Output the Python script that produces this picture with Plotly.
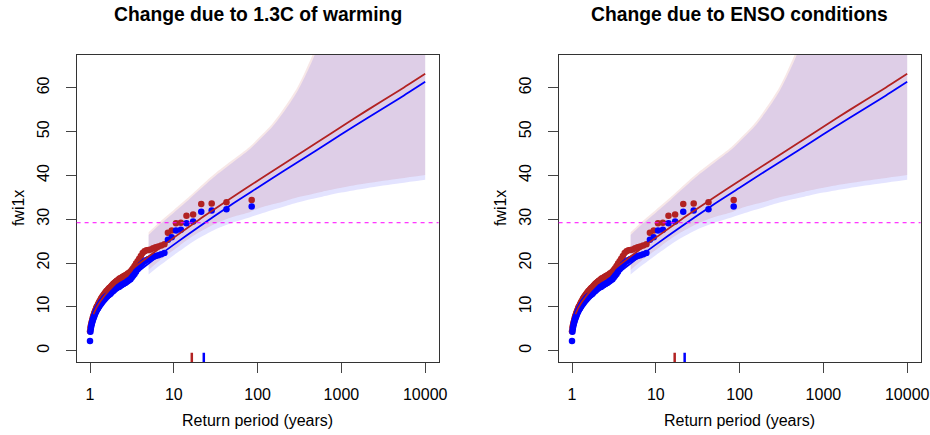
import plotly.graph_objects as go

# ---------------- data ----------------
# empirical return periods of the ranked observations (years)
obs_rp = [85, 42.5, 28.333, 21.25, 17, 14.167, 12.143, 10.625, 9.444, 8.5,
          7.727, 7.083, 6.538, 6.071, 5.667, 5.313, 5, 4.722, 4.474, 4.25,
          4.048, 3.864, 3.696, 3.542, 3.4, 3.269, 3.148, 3.036, 2.931, 2.833,
          2.742, 2.656, 2.576, 2.5, 2.429, 2.361, 2.297, 2.237, 2.179, 2.125,
          2.073, 2.024, 1.977, 1.932, 1.889, 1.848, 1.809, 1.771, 1.735, 1.7,
          1.667, 1.635, 1.604, 1.574, 1.545, 1.518, 1.491, 1.466, 1.441, 1.417,
          1.393, 1.371, 1.349, 1.328, 1.308, 1.288, 1.269, 1.25, 1.232, 1.214,
          1.197, 1.181, 1.164, 1.149, 1.133, 1.118, 1.104, 1.09, 1.076, 1.063,
          1.049, 1.037, 1.024, 1.012, 1.0]

obs_red = [34.4, 33.9, 33.6, 33.5, 31.1, 30.8, 29.2, 29.1, 27.4, 26.9,
           24.3, 24.0, 23.8, 23.6, 23.4, 23.1, 23.0, 22.9, 22.7, 22.3,
           21.6, 21.0, 20.4, 19.9, 19.3, 18.8, 18.4, 18.0, 17.8, 17.6,
           17.4, 17.2, 17.1, 16.9, 16.8, 16.6, 16.5, 16.4, 16.2, 16.0,
           15.9, 15.7, 15.5, 15.4, 15.2, 15.0, 14.8, 14.6, 14.4, 14.3,
           14.1, 13.9, 13.7, 13.6, 13.4, 13.2, 13.0, 12.8, 12.6, 12.4,
           12.2, 12.0, 11.8, 11.5, 11.3, 11.1, 10.8, 10.6, 10.3, 10.1,
           9.9, 9.6, 9.3, 9.0, 8.7, 8.4, 8.1, 7.8, 7.4, 7.0,
           6.6, 6.2, 5.7, 5.2, 4.4]

obs_blue = [32.9, 32.3, 32.0, 31.7, 29.5, 29.1, 27.6, 27.4, 25.9, 25.3,
            22.3, 22.0, 21.8, 21.6, 21.4, 21.1, 20.9, 20.7, 20.4, 20.0,
            19.6, 19.1, 18.6, 18.0, 17.5, 17.1, 16.7, 16.3, 16.1, 15.9,
            15.7, 15.5, 15.4, 15.2, 15.1, 14.9, 14.8, 14.6, 14.5, 14.4,
            14.3, 14.1, 14.0, 13.8, 13.6, 13.5, 13.3, 13.1, 12.95, 12.8,
            12.7, 12.6, 12.5, 12.4, 12.3, 12.1, 12.0, 11.8, 11.6, 11.4,
            11.3, 11.1, 10.9, 10.7, 10.5, 10.3, 10.0, 9.8, 9.6, 9.4,
            9.2, 8.9, 8.7, 8.4, 8.1, 7.8, 7.5, 7.2, 6.9, 6.5,
            6.1, 5.6, 5.0, 4.3, 2.2]

# fitted return-level curves
fit_rp = [1.1, 1.2, 1.5, 2, 3, 5, 10, 20, 50, 100, 200, 500, 1000, 2000, 5000, 10000]
fit_red = [8.3, 9.9, 12.6, 15.2, 18.2, 21.5, 25.8, 29.9, 35.0, 38.8, 42.5, 47.4, 51.1, 54.8, 59.5, 63.2]
fit_blue = [6.7, 8.2, 10.9, 13.5, 16.5, 19.9, 24.2, 28.3, 33.5, 37.2, 40.9, 45.7, 49.4, 53.0, 57.7, 61.4]

# confidence bands
ci_rp = [5, 7, 10, 15, 20, 30, 50, 80, 100, 150, 200, 300, 440, 700, 1000, 2000, 5000, 10000]
ci_red_hi = [27.0, 29.6, 32.1, 35.0, 37.2, 40.2, 43.5, 46.5, 48.3, 51.8, 55.0, 60.2, 67.0, 77, 85, 103, 135, 165]
ci_red_lo = [18.4, 20.8, 23.0, 25.5, 27.0, 28.8, 30.5, 31.6, 32.4, 33.4, 34.0, 35.0, 35.7, 36.6, 37.2, 38.2, 39.3, 40.1]
ci_blue_hi = [26.4, 29.0, 31.5, 34.4, 36.6, 39.6, 42.9, 45.9, 47.7, 51.1, 54.2, 59.3, 65.8, 75.5, 83.5, 101, 133, 162]
ci_blue_lo = [17.4, 19.6, 21.8, 24.2, 25.7, 27.5, 29.2, 30.4, 31.0, 32.1, 32.8, 33.8, 34.6, 35.5, 36.1, 37.1, 38.2, 39.0]

event_value = 29.2
rug_left = [16.4, 22.8]     # red, blue
rug_right = [16.8, 22.1]

titles = ["Change due to 1.3C of warming", "Change due to ENSO conditions"]
x_tickvals = [1, 10, 100, 1000, 10000]
x_ticktext = ["1", "10", "100", "1000", "10000"]
y_tickvals = [0, 10, 20, 30, 40, 50, 60]
xlabel = "Return period (years)"
ylabel = "fwi1x"

# ---------------- styling ----------------
RED = "#B22222"
BLUE = "#0000FF"
RED_BAND = "rgba(178,34,34,0.11)"
BLUE_BAND = "rgba(0,0,255,0.11)"
FONT = "Liberation Sans, Arial, sans-serif"
W, H = 930, 435
YR = [-2.6, 67.5]
XR = [-0.16, 4.16]

panels = [
    dict(xa="x", ya="y", xdom=[76.6 / W, 438.6 / W], rug=rug_left, title=titles[0]),
    dict(xa="x2", ya="y2", xdom=[558.6 / W, 920.6 / W], rug=rug_right, title=titles[1]),
]
ydom = [1 - 362 / H, 1 - 55 / H]

fig = go.Figure()
for p in panels:
    xa, ya = p["xa"], p["ya"]
    # bands
    band_line = dict(width=0, shape="spline", smoothing=0.8)
    fig.add_trace(go.Scatter(x=ci_rp, y=ci_blue_lo, mode="lines", line=band_line,
                             xaxis=xa, yaxis=ya, hoverinfo="skip", showlegend=False))
    fig.add_trace(go.Scatter(x=ci_rp, y=ci_blue_hi, mode="lines", line=band_line,
                             fill="tonexty", fillcolor=BLUE_BAND,
                             xaxis=xa, yaxis=ya, hoverinfo="skip", showlegend=False))
    fig.add_trace(go.Scatter(x=ci_rp, y=ci_red_lo, mode="lines", line=band_line,
                             xaxis=xa, yaxis=ya, hoverinfo="skip", showlegend=False))
    fig.add_trace(go.Scatter(x=ci_rp, y=ci_red_hi, mode="lines", line=band_line,
                             fill="tonexty", fillcolor=RED_BAND,
                             xaxis=xa, yaxis=ya, hoverinfo="skip", showlegend=False))
    # observations
    fig.add_trace(go.Scatter(x=obs_rp, y=obs_red, mode="markers",
                             marker=dict(color=RED, size=6.5, line=dict(width=0)),
                             xaxis=xa, yaxis=ya, showlegend=False))
    fig.add_trace(go.Scatter(x=obs_rp, y=obs_blue, mode="markers",
                             marker=dict(color=BLUE, size=6.5, line=dict(width=0)),
                             xaxis=xa, yaxis=ya, showlegend=False))
    # fitted curves
    fig.add_trace(go.Scatter(x=fit_rp, y=fit_red, mode="lines",
                             line=dict(color=RED, width=1.8, shape="spline", smoothing=0.6),
                             xaxis=xa, yaxis=ya, showlegend=False))
    fig.add_trace(go.Scatter(x=fit_rp, y=fit_blue, mode="lines",
                             line=dict(color=BLUE, width=1.8, shape="spline", smoothing=0.6),
                             xaxis=xa, yaxis=ya, showlegend=False))
    # rugs
    rug_top = YR[0] + 0.03 * (YR[1] - YR[0])
    for rp, col in zip(p["rug"], [RED, BLUE]):
        fig.add_trace(go.Scatter(x=[rp, rp], y=[YR[0], rug_top], mode="lines",
                                 line=dict(color=col, width=2.5),
                                 xaxis=xa, yaxis=ya, showlegend=False, hoverinfo="skip"))
    # event threshold
    fig.add_shape(type="line", xref=f"{xa} domain", yref=ya, x0=0, x1=1,
                  y0=event_value, y1=event_value,
                  line=dict(color="#FF00FF", width=1, dash="4px,4px"))
    # titles
    xc = (p["xdom"][0] + p["xdom"][1]) / 2
    fig.add_annotation(x=xc, y=1 - 15 / H, xref="paper", yref="paper", text=f"<b>{p['title']}</b>",
                       showarrow=False, font=dict(size=19.3, family=FONT, color="#000"),
                       xanchor="center", yanchor="middle")
    fig.add_annotation(x=xc, y=1 - 420 / H, xref="paper", yref="paper", text=xlabel,
                       showarrow=False, font=dict(size=16, family=FONT, color="#000"),
                       xanchor="center", yanchor="middle")
    xl = p["xdom"][0] - 58 / W
    fig.add_annotation(x=xl, y=(ydom[0] + ydom[1]) / 2, xref="paper", yref="paper", text=ylabel,
                       showarrow=False, textangle=-90, font=dict(size=16, family=FONT, color="#000"),
                       xanchor="center", yanchor="middle")

axis_common = dict(showgrid=False, zeroline=False, showline=True, mirror=True,
                   linecolor="#333", linewidth=1, ticks="outside", ticklen=10,
                   tickcolor="#444", tickwidth=1, automargin=False,
                   tickfont=dict(size=16, family=FONT, color="#000"))
layout = dict(width=W, height=H, margin=dict(l=0, r=0, t=0, b=0, autoexpand=False),
              paper_bgcolor="white", plot_bgcolor="white", showlegend=False)
for i, p in enumerate(panels):
    sfx = "" if i == 0 else "2"
    layout[f"xaxis{sfx}"] = dict(axis_common, type="log", range=XR, domain=p["xdom"],
                                 tickvals=x_tickvals, ticktext=x_ticktext,
                                 anchor=f"y{sfx}", ticklabelstandoff=8)
    layout[f"yaxis{sfx}"] = dict(axis_common, range=YR, domain=ydom, tickvals=y_tickvals,
                                 tickangle=-90, anchor=f"x{sfx}", ticklabelstandoff=10)
fig.update_layout(**layout)
fig.write_html("out.html")
